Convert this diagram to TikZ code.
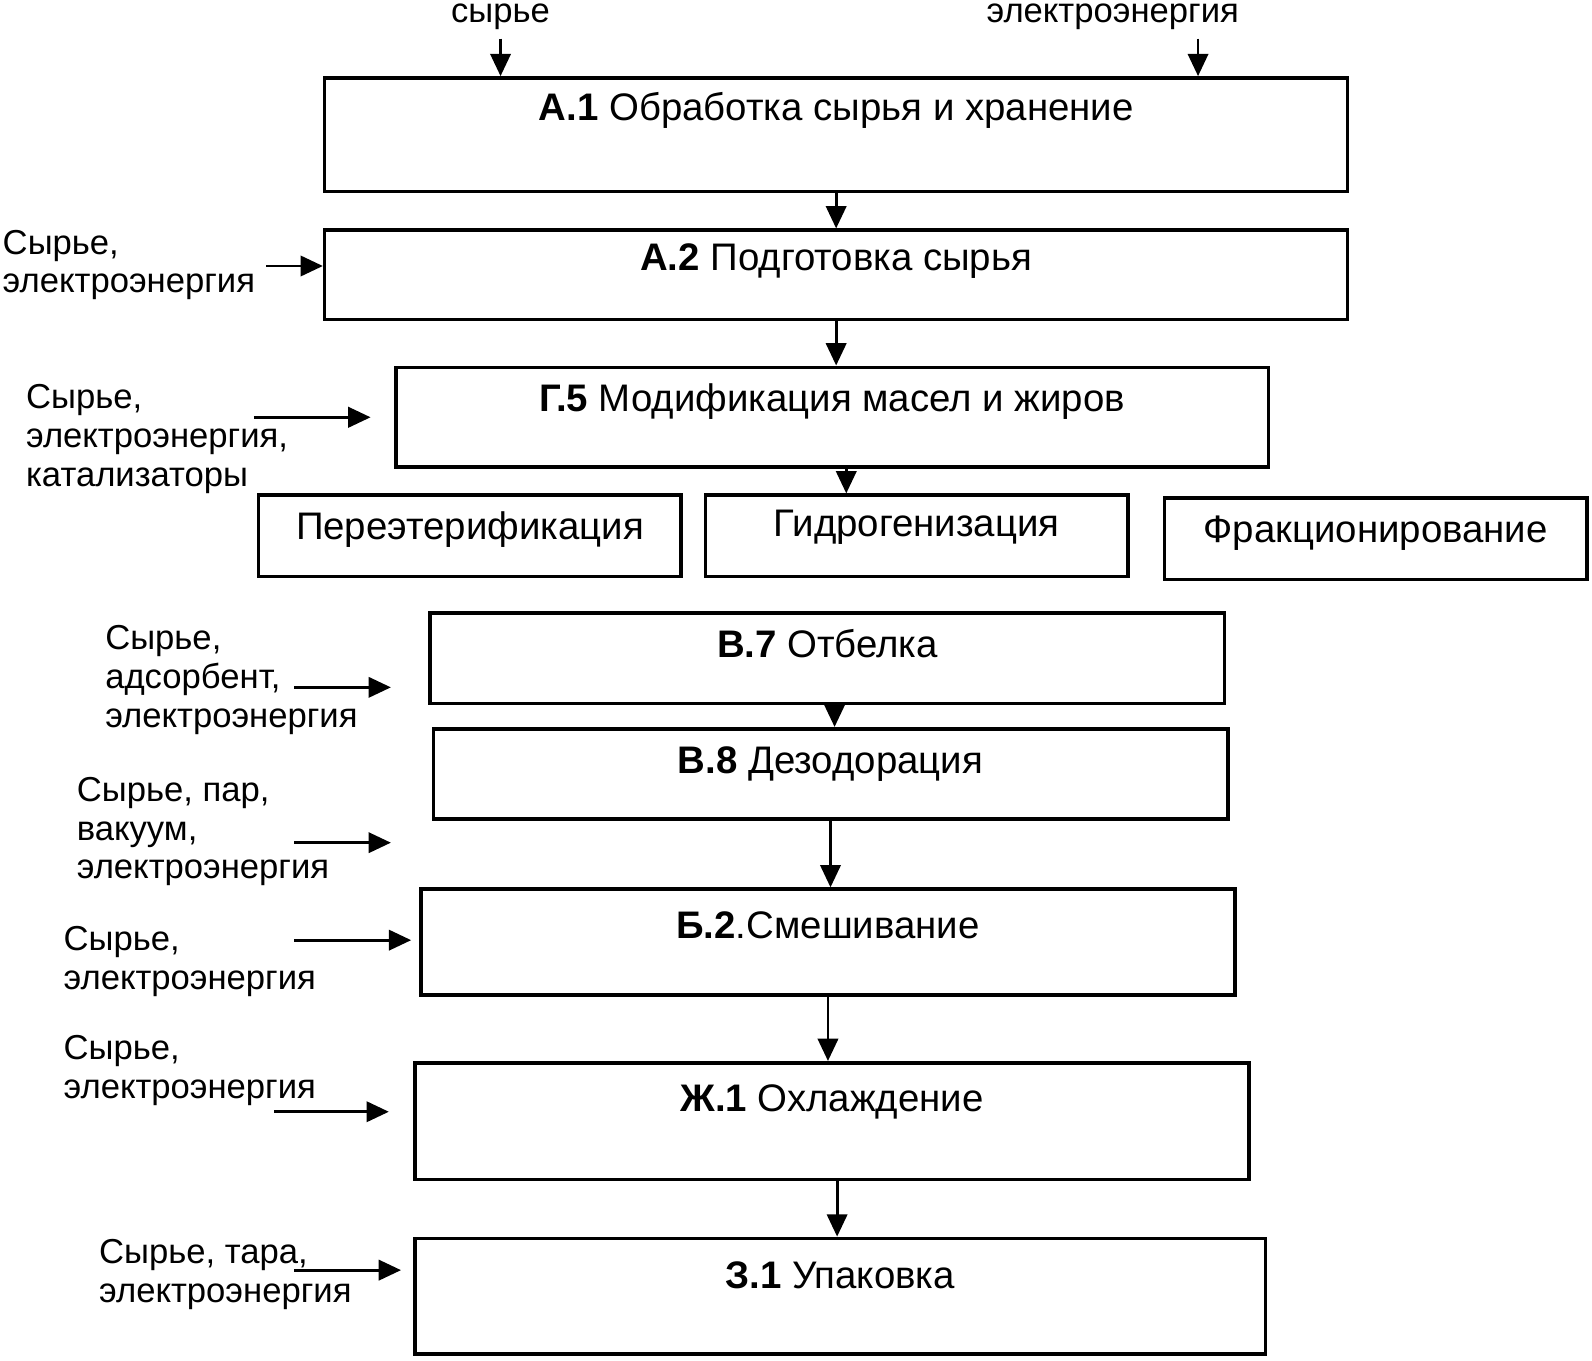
\documentclass[tikz,border=0pt]{standalone}
\usepackage{fontspec}
\setmainfont{Liberation Sans}
\usetikzlibrary{arrows.meta,positioning}
\tikzset{>/.tip={Triangle[length=2.2mm,width=2mm]}}
\tikzset{stage/.style={draw,line width=1pt,anchor=north west,inner sep=0pt,text height=0.44cm,font=\fontsize{10.75}{13}\selectfont}}
\tikzset{sub/.style={stage,minimum width=4.16cm,text depth=0.36cm}}
\tikzset{feed/.style={anchor=west,align=left,inner sep=0pt,font=\fontsize{9.7}{10.9}\selectfont}}
\tikzset{flow/.style={->,line width=0.8pt}}

\begin{document}
\begin{tikzpicture}[x=0.01cm,y=-0.01cm]
        \useasboundingbox (0,0) rectangle (1568,1340);
        \node(A1)[stage,minimum width=10.07cm,text height=0.42cm,text depth=0.70cm] at (318,75) {\textbf{А.1} Обработка сырья и хранение};
        \node(A2)[stage,minimum width=10.07cm,text height=0.40cm,text depth=0.48cm] at (318,225) {\textbf{А.2} Подготовка сырья};
        \node(G5)[stage,minimum width=8.59cm,text depth=0.54cm] at (388,360) {\textbf{Г.5} Модификация масел и жиров};
        \node(Ester)[sub] at (253,486) {Переэтерификация};
        \node(Hyd)[sub,text height=0.41cm,text depth=0.39cm] at (693,486) {Гидрогенизация};
        \node(Frac)[sub] at (1145,489) {Фракционирование};
        \node(B7)[stage,minimum width=7.82cm,text depth=0.45cm] at (422,602) {\textbf{В.7} Отбелка};
        \node(B8)[stage,minimum width=7.82cm,text depth=0.45cm] at (425,716) {\textbf{В.8} Дезодорация};
        \node(B2)[stage,minimum width=8.01cm,text height=0.49cm,text depth=0.55cm] at (413,874) {\textbf{Б.2}.Смешивание};
        \node(Zh1)[stage,minimum width=8.21cm,text height=0.48cm,text depth=0.67cm] at (407,1045) {\textbf{Ж.1} Охлаждение};
        \node(Z1)[stage,minimum width=8.37cm,text height=0.49cm,text depth=0.65cm] at (407,1218) {\textbf{З.1} Упаковка};

        \node(rawtop)[feed,anchor=center] at (493,17) {сырье};
        \node(powtop)[feed,anchor=center] at (1096,17) {электроэнергия};
        \node(LA2)[feed] at (2,261) {Сырье,\\электроэнергия};
        \node(LG5)[feed] at (25,432) {Сырье,\\электроэнергия,\\катализаторы};
        \node(LB7)[feed] at (103,670) {Сырье,\\адсорбент,\\электроэнергия};
        \node(LB8)[feed] at (75,819) {Сырье, пар,\\вакуум,\\электроэнергия};
        \node(LB2)[feed] at (62,947) {Сырье,\\электроэнергия};
        \node(LZh1)[feed] at (62,1054) {Сырье,\\электроэнергия};
        \node(LZ1)[feed] at (97,1255) {Сырье, тара,\\электроэнергия};

        \coordinate(rawin) at (493,38);
        \coordinate(powin) at (1180,38);
        \coordinate(inA2) at (262,262);
        \coordinate(inG5) at (250,411);
        \coordinate(toG5) at (365,411);
        \coordinate(inB7) at (290,677);
        \coordinate(toB7) at (385,677);
        \coordinate(inB8) at (290,830);
        \coordinate(toB8) at (385,830);
        \coordinate(inB2) at (290,926);
        \coordinate(inZh1) at (270,1095);
        \coordinate(toZh1) at (383,1095);
        \coordinate(inZ1) at (290,1251);

        \draw[flow] (rawin) -- (rawin |- A1.north);
        \draw[flow] (powin) -- (powin |- A1.north);
        \draw[flow] (A1.south) -- (A2.north);
        \draw[flow] (A2.south) -- (A2.south |- G5.north);
        \draw[flow] ([xshift=0.14cm]G5.south) -- ([xshift=0.14cm]G5.south |- Hyd.north);
        \draw[flow] ([xshift=0.07cm]B7.south) -- ([xshift=0.07cm]B7.south |- B8.north);
        \draw[flow] (B8.south) -- (B8.south |- B2.north);
        \draw[flow] (B2.south) -- (B2.south |- Zh1.north);
        \draw[flow] ([xshift=0.05cm]Zh1.south) -- ([xshift=0.05cm]Zh1.south |- Z1.north);

        \draw[flow] (inA2) -- (inA2 -| A2.west);
        \draw[flow] (inG5) -- (toG5);
        \draw[flow] (inB7) -- (toB7);
        \draw[flow] (inB8) -- (toB8);
        \draw[flow] (inB2) -- ([xshift=-0.08cm]inB2 -| B2.west);
        \draw[flow] (inZh1) -- (toZh1);
        \draw[flow] (inZ1) -- ([xshift=-0.12cm]inZ1 -| Z1.west);
      \end{tikzpicture}
\end{document}
